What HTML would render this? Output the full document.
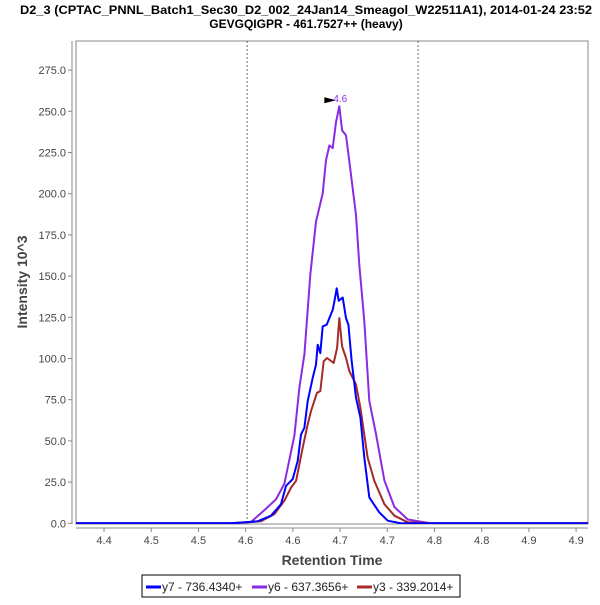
<!DOCTYPE html>
<html><head><meta charset="utf-8"><style>
body{margin:0;background:#fff;}
text{font-family:"Liberation Sans",sans-serif;}
</style></head><body>
<svg id="chart" width="600" height="600" xmlns="http://www.w3.org/2000/svg">
<defs><clipPath id="pc"><rect x="76" y="41" width="512" height="483"/></clipPath></defs>
<text x="306" y="14" text-anchor="middle" font-size="12" font-weight="bold" textLength="572" lengthAdjust="spacingAndGlyphs">D2_3 (CPTAC_PNNL_Batch1_Sec30_D2_002_24Jan14_Smeagol_W22511A1), 2014-01-24 23:52</text>
<text x="306" y="28" text-anchor="middle" font-size="12" font-weight="bold">GEVGQIGPR - 461.7527++ (heavy)</text>
<rect x="76" y="41" width="512" height="483" fill="#fff" stroke="#888" stroke-width="1"/>
<g id="axes"></g>
<g id="series" clip-path="url(#pc)"></g>
<g id="annot"></g>
<text transform="translate(27,282) rotate(-90)" text-anchor="middle" font-size="14" font-weight="bold" fill="#444">Intensity 10^3</text>
<text x="332" y="565" text-anchor="middle" font-size="14" font-weight="bold" fill="#444">Retention Time</text>
<g>
<rect x="142" y="575" width="318" height="22" fill="#fff" stroke="#000"/>
<line x1="146" y1="587" x2="161" y2="587" stroke="#0000ff" stroke-width="3"/>
<text x="162" y="591" font-size="12" fill="#222">y7 - 736.4340+</text>
<line x1="252" y1="587" x2="267" y2="587" stroke="#8a2be2" stroke-width="3"/>
<text x="268" y="591" font-size="12" fill="#222">y6 - 637.3656+</text>
<line x1="357" y1="587" x2="372" y2="587" stroke="#a52a2a" stroke-width="3"/>
<text x="373" y="591" font-size="12" fill="#222">y3 - 339.2014+</text>
</g>
</svg>
<script>
const xTicks=[4.40,4.45,4.50,4.55,4.60,4.65,4.70,4.75,4.80,4.85,4.90];
const xTickLabels=["4.4","4.5","4.5","4.6","4.6","4.7","4.7","4.8","4.8","4.9","4.9"];
const yTicks=[0,25,50,75,100,125,150,175,200,225,250,275];
const markers=[4.5515,4.7326];
const y7T=[4.34,4.5345,4.5627,4.5768,4.5874,4.5927,4.5998,4.6051,4.6086,4.6122,4.6157,4.6210,4.6245,4.6263,4.6291,4.6316,4.6358,4.6422,4.6440,4.6464,4.6485,4.6528,4.6563,4.6588,4.6623,4.6669,4.6715,4.6757,4.6810,4.6916,4.7004,4.7146,4.7464,4.93];
const y7V=[0,0,1.2,4.6,11.6,22.7,26.8,37.8,53.9,58,74.1,88.2,96.3,108.4,103.3,119.5,120.5,129.5,134.6,142.6,135,137,124.5,120.5,98.3,76.2,64.1,39.9,15.7,6.6,1.6,0,0,0];
const y6T=[4.34,4.5345,4.5557,4.5698,4.5821,4.5910,4.6016,4.6069,4.6122,4.6185,4.6245,4.6316,4.6351,4.6387,4.6422,4.6457,4.6492,4.6521,4.6563,4.6599,4.6669,4.6704,4.6757,4.6810,4.6881,4.6969,4.7075,4.7217,4.7464,4.93];
const y6V=[0,0,0.8,8,14.5,24.1,53.3,82.4,102.5,150.8,183.1,200.1,220.3,229.3,227.7,243.4,253.1,238.4,235.4,219.3,187.1,156.9,122.7,74.3,54.2,26.0,9.9,2.3,0,0];
const y3T=[4.34,4.5345,4.5663,4.5804,4.5910,4.5981,4.6034,4.6069,4.6104,4.6157,4.6192,4.6256,4.6291,4.6327,4.6362,4.6432,4.6468,4.6492,4.6521,4.6563,4.6599,4.6669,4.6715,4.6792,4.6863,4.6969,4.7075,4.7217,4.7464,4.93];
const y3V=[0,0,1.2,5.6,13.7,21.7,25.8,35.8,45.9,60,68.1,79.2,80.2,98.3,100.3,97.3,106.4,124.5,107.4,100.3,92.3,84.2,70.1,39.9,25.8,11.6,4.6,0.6,0,0];
const peakLabel="4.6", peakT=4.6492, peakV=253.1;

const NS="http://www.w3.org/2000/svg";
const X0=76,X1=588,T0=4.3703,T1=4.9126;
const Y0=523.3,YPX=41.2/25;
function xs(t){return X0+(t-T0)/(T1-T0)*(X1-X0);}
function ys(v){return Y0-v*YPX;}
function mk(tag,attrs,parent){const e=document.createElementNS(NS,tag);for(const k in attrs)e.setAttribute(k,attrs[k]);parent.appendChild(e);return e;}
const axes=document.getElementById('axes'), ser=document.getElementById('series'), ann=document.getElementById('annot');
const yAxis=mk('line',{x1:72,y1:41,x2:72,y2:524,stroke:'#888'},axes);


const xAxis=mk('line',{x1:76,y1:528,x2:588,y2:528,stroke:'#888'},axes);


yTicks.forEach(v=>{const y=ys(v);
 mk('line',{x1:68,y1:y,x2:72,y2:y,stroke:'#888'},axes);
 const t=mk('text',{x:66,y:y+4,'text-anchor':'end','font-size':11,fill:'#444'},axes);t.textContent=v.toFixed(1);
 
 });
xTicks.forEach((v,i)=>{const x=xs(v);
 mk('line',{x1:x,y1:528,x2:x,y2:532,stroke:'#888'},axes);
 const t=mk('text',{x:x,y:544,'text-anchor':'middle','font-size':11,fill:'#444'},axes);t.textContent=xTickLabels[i];
 
 });
markers.forEach(m=>{const l=mk('line',{x1:xs(m),y1:41,x2:xs(m),y2:524,stroke:'#444','stroke-width':0.8,'stroke-dasharray':'2,2'},axes);
 
 });
function draw(T,V,color,name){const p=mk('polyline',{points:T.map((t,i)=>xs(t).toFixed(1)+','+ys(V[i]).toFixed(1)).join(' '),fill:'none',stroke:color,'stroke-width':2,'stroke-linejoin':'round'},ser);
 
 }
draw(y6T,y6V,'#8a2be2','series-y6');
draw(y3T,y3V,'#a52a2a','series-y3');
draw(y7T,y7V,'#0000ff','series-y7');
const px=xs(peakT),py=ys(peakV);
const arr=mk('polygon',{points:`${px-15},${py-9} ${px-3},${py-6} ${px-15},${py-3}`,fill:'#000'},ann);


const pl=mk('text',{x:px-6,y:py-4,'font-size':10,fill:'#8a2be2'},ann);pl.textContent=peakLabel;


</script>
</body></html>
